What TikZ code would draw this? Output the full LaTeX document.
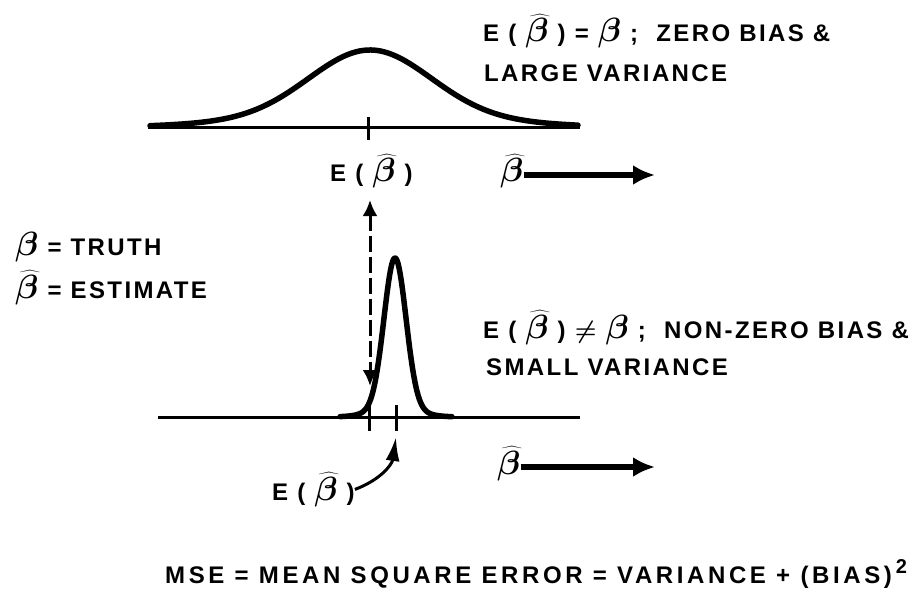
\documentclass[tikz,border=0pt]{standalone}
\usepackage{fontspec}
\setmainfont{Liberation Sans}[LetterSpace=10]
\usetikzlibrary{arrows.meta,positioning}

\newcommand{\tb}{\scalebox{1.35}{$\beta$}}
\newcommand{\eb}{\scalebox{1.35}{$\widehat{\beta}$}}

\begin{document}
\begin{tikzpicture}[
  x=1pt, y=-1pt,
  lbl/.style={font=\fontsize{24}{28}\selectfont\bfseries\boldmath, inner sep=0pt,
              anchor=base west},
  axis/.style={line width=3pt},
  curve/.style={line width=5.5pt, line join=round, line cap=round},
  tickmark/.style={line width=3pt},
  bigarrow/.style={line width=6pt, -{Latex[length=22pt,width=20pt]}},
  gap/.style={line width=3pt, dash pattern=on 16pt off 5pt,
              {Latex[length=16pt,width=15pt]}-{Latex[length=16pt,width=15pt]}},
  pointer/.style={line width=3pt, -{Latex[length=24pt,width=14pt]}},
]
  \useasboundingbox (0,0) rectangle (917,596);

  % Upper distribution (zero bias, large variance)
  \draw[axis] (148,128) -- (580,128);
  \draw[curve] plot[domain=150:578, samples=150]
    (\x, {128-66*exp(-0.5*((\x-370)/60)^2)-12*exp(-0.5*((\x-370)/120)^2)});
  \draw[tickmark] (368,117) -- (368,140);

  % Lower distribution (non-zero bias, small variance)
  \draw[axis] (158,417) -- (580,417);
  \draw[curve] plot[domain=340:452, samples=150]
    (\x, {417-150*exp(-0.5*((\x-395)/11)^2)-9*exp(-0.5*((\x-395)/22)^2)});
  \coordinate (truthTick) at (369,431);
  \coordinate (meanTick) at (396,431);
  \draw[tickmark] (369,405) -- (truthTick);
  \draw[tickmark] (396,405) -- (meanTick);

  % Bias between the two expectations
  \coordinate (gapTop) at (370,200);
  \coordinate (gapBot) at (370,386);
  \draw[gap] (gapTop) -- (gapBot);

  % Labels, upper
  \node[lbl] (topEq) at (483,42) {E ( \eb\ ) = \tb\ ;\ \ ZERO BIAS \&};
  \node[lbl] (topVar) at (484,82) {LARGE VARIANCE};
  \node[lbl] (topE) at (330,182) {E ( \eb\ )};
  \node[lbl] (topB) at (500,182) {\eb};
  \coordinate (topEnd) at (655,175);
  \draw[bigarrow] (topB.east |- topEnd) -- (topEnd);

  % Legend
  \node[lbl] (truth) at (15,255) {\tb\ = TRUTH};
  \node[lbl] (est) at (15,298) {\eb\ = ESTIMATE};

  % Labels, lower
  \node[lbl] (botEq) at (483,338) {E ( \eb\ ) $\neq$ \tb\ ;\ \ NON-ZERO BIAS \&};
  \node[lbl] (botVar) at (486,375) {SMALL VARIANCE};
  \node[lbl] (botB) at (497,474) {\eb};
  \coordinate (botEnd) at (655,467);
  \draw[bigarrow] (botB.east |- botEnd) -- (botEnd);
  \node[lbl] (botE) at (272,500) {E ( \eb\ )};
  \draw[pointer] (botE.east) .. controls (380,480) and (392,465) .. ([yshift=-6pt]meanTick);

  % Definition
  \node[lbl] (mse) at (165,583)
    {\addfontfeature{LetterSpace=15}MSE = MEAN SQUARE ERROR = VARIANCE + (BIAS)\,\raisebox{10pt}{\fontsize{20}{24}\selectfont 2}};
\end{tikzpicture}
\end{document}
